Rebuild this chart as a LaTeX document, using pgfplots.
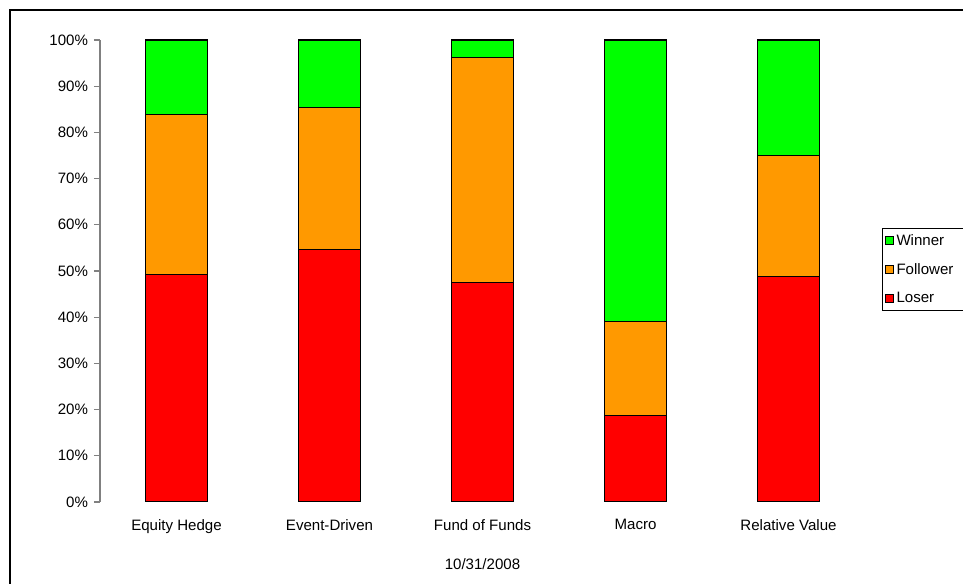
\documentclass[border=0pt]{standalone}
\usepackage{pgfplots}
\pgfplotsset{compat=1.18}
\usepackage{fontspec}
\setmainfont{Liberation Sans}
\definecolor{cwin}{RGB}{0,255,0}
\definecolor{cfol}{RGB}{255,153,0}
\definecolor{clos}{RGB}{255,0,0}
\pgfplotstableread{
x loser follower winner
0 49.3 34.5 16.2
1 54.6 30.8 14.6
2 47.6 48.7 3.7
3 18.8 20.2 61.0
4 48.9 26.0 25.1
}\data
\begin{document}
\begin{tikzpicture}
\useasboundingbox (0,0) rectangle (722.25pt,438pt);
\clip (0,0) rectangle (722.25pt,438pt);
\draw[line width=0.9pt] (7.5pt,-20pt) rectangle (760pt,430.5pt);
\begin{axis}[
  at={(75pt,61.5pt)}, anchor=south west,
  scale only axis, width=573.75pt, height=346.5pt,
  ybar stacked, bar width=46.5pt,
  xmin=-0.5, xmax=4.5, ymin=0, ymax=100,
  xtick=data,
  xticklabels={Equity Hedge,Event-Driven,Fund of Funds,Macro,Relative Value},
  ytick={0,10,...,100},
  yticklabel={\pgfmathprintnumber{\tick}\%},
  /pgf/number format/assume math mode=true,
  axis lines*=left,
  x axis line style={draw=none},
  y axis line style={draw=gray, line width=0.8pt},
  xtick style={draw=none},
  ytick style={draw=gray, line width=0.8pt},
  tick align=outside, major tick length=4.5pt,
  ticklabel style={font=\fontsize{11.3}{13}\selectfont},
  xticklabel style={yshift=-5pt},
  yticklabel style={xshift=-1pt},
  xlabel={10/31/2008},
  xlabel style={font=\fontsize{11.3}{13}\selectfont, yshift=-12pt},
  legend style={at={(1.0222,0.593)}, anchor=north west, draw=black, line width=0.6pt,
    font=\fontsize{11.3}{13}\selectfont, row sep=8pt, inner xsep=2pt, inner ysep=2.5pt,
    legend cell align=left},
  legend image code/.code={\draw[#1,draw=black,line width=0.6pt] (0pt,-3pt) rectangle (6pt,3pt);},
  reverse legend,
  every axis plot/.append style={draw=black, line width=0.8pt},
]
\addplot[fill=clos] table[x=x,y=loser]{\data};
\addplot[fill=cfol] table[x=x,y=follower]{\data};
\addplot[fill=cwin] table[x=x,y=winner]{\data};
\legend{\makebox[60pt][l]{Loser},\makebox[60pt][l]{Follower},\makebox[60pt][l]{Winner}}
\end{axis}
\end{tikzpicture}
\end{document}
